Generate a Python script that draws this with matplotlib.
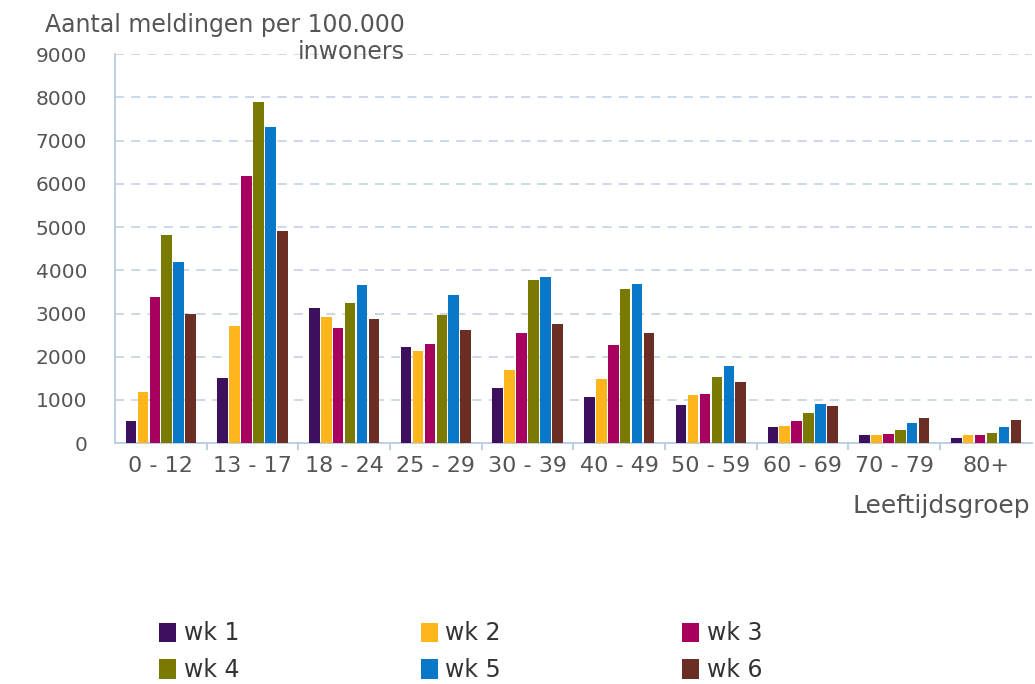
import matplotlib
matplotlib.use("Agg")
import matplotlib.pyplot as plt
import numpy as np

groups = ["0 - 12", "13 - 17", "18 - 24", "25 - 29", "30 - 39",
          "40 - 49", "50 - 59", "60 - 69", "70 - 79", "80+"]
weeks = ["wk 1", "wk 2", "wk 3", "wk 4", "wk 5", "wk 6"]
wk1 = [520, 1500, 3130, 2230, 1280, 1060, 890, 370, 180, 130]
wk2 = [1190, 2720, 2910, 2130, 1690, 1490, 1110, 410, 180, 180]
wk3 = [3370, 6180, 2670, 2300, 2550, 2270, 1140, 510, 220, 180]
wk4 = [4820, 7900, 3240, 2960, 3780, 3570, 1530, 700, 300, 240]
wk5 = [4180, 7320, 3670, 3430, 3840, 3680, 1780, 900, 460, 370]
wk6 = [3000, 4910, 2870, 2620, 2750, 2540, 1420, 860, 580, 540]
series = [wk1, wk2, wk3, wk4, wk5, wk6]
colors = ["#3d105e", "#ffb51c", "#a8005f", "#7a7a00", "#0a78c8", "#6b2e24"]

fig = plt.figure(figsize=(10.35, 6.84), dpi=100)
ax = fig.add_axes([0.111, 0.352, 0.886, 0.569])

x = np.arange(len(groups))
pitch = 0.13
width = 0.115
bars = []
for i, (vals, c) in enumerate(zip(series, colors)):
    b = ax.bar(x + (i - 2.5) * pitch, vals, width, color=c, zorder=3)
    bars.append(b)

ax.set_xlim(-0.5, len(groups) - 0.5)
ax.set_ylim(0, 9000)
ax.set_yticks(np.arange(0, 9001, 1000))
ax.yaxis.grid(True, linestyle=(0, (5, 4)), color="#c8d4e6", linewidth=1.3, zorder=0)

for s in ["top", "right"]:
    ax.spines[s].set_visible(False)
for s in ["left", "bottom"]:
    ax.spines[s].set_color("#b8cce4")
    ax.spines[s].set_linewidth(1.3)

ax.set_xticks(x)
ax.set_xticklabels(groups)
ax.set_xticks(np.arange(0.5, len(groups) - 0.5, 1), minor=True)
ax.tick_params(axis="x", which="major", length=0, pad=9, labelsize=16, labelcolor="#555555")
ax.tick_params(axis="x", which="minor", length=5, color="#b8cce4", width=1.3)
ax.tick_params(axis="y", length=0, pad=20, labelsize=14.5, labelcolor="#555555")

# y-axis title in two right-aligned pieces, top left of the chart
fig.text(405 / 1035, 1 - 25 / 684, "Aantal meldingen per 100.000",
         ha="right", va="center", fontsize=17, color="#555555")
fig.text(405 / 1035, 1 - 52 / 684, "inwoners",
         ha="right", va="center", fontsize=17, color="#555555")
fig.text(1030 / 1035, 1 - 506 / 684, "Leeftijdsgroep", ha="right", va="center",
         fontsize=18, color="#555555")

# legend fills row-wise in the reference
order = [0, 3, 1, 4, 2, 5]
leg = fig.legend([bars[i] for i in order], [weeks[i] for i in order],
                 ncol=3, loc="upper left", bbox_to_anchor=(150 / 1035, 1 - 612 / 684),
                 frameon=False, fontsize=17, handlelength=0.72, handleheight=0.9,
                 handletextpad=0.3, columnspacing=7.7, labelspacing=0.55,
                 borderaxespad=0, labelcolor="#333333")

fig.savefig("out.png", dpi=100, facecolor="white")
